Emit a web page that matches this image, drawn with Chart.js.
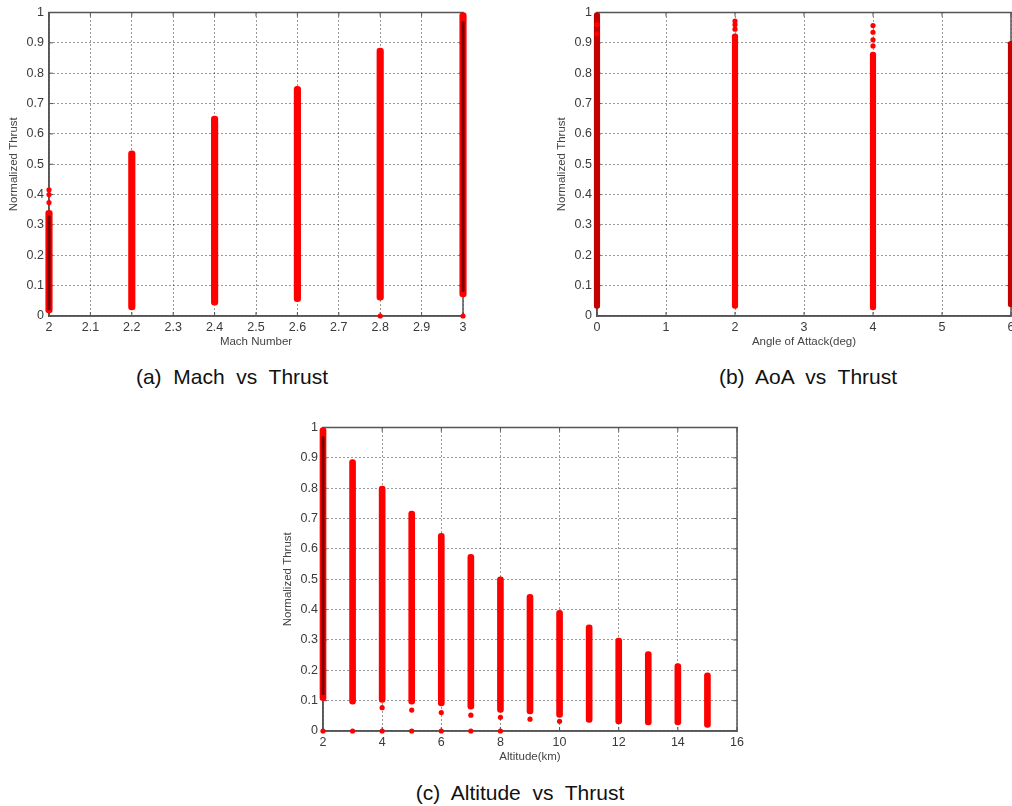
<!DOCTYPE html>
<html>
<head>
<meta charset="utf-8">
<script src="https://cdn.jsdelivr.net/npm/chart.js@4.4.1/dist/chart.umd.min.js"></script>
<style>
  html, body { margin: 0; padding: 0; background: #fff; width: 1012px; height: 806px; overflow: hidden; }
  body { position: relative; }
  canvas { position: absolute; }
  .caption {
    position: absolute; transform: translateX(-50%);
    font-family: "Liberation Sans", Arial, sans-serif; font-size: 21px; line-height: 24px;
    color: #111; white-space: pre;
  }
</style>
</head>
<body>
<canvas id="mach-chart" width="475" height="350" style="left:0;top:0"></canvas>
<canvas id="aoa-chart" width="475" height="350" style="left:548px;top:0"></canvas>
<canvas id="alt-chart" width="475" height="350" style="left:274px;top:415px"></canvas>
<div class="caption" style="left:232px;top:365px">(a)  Mach  vs  Thrust</div>
<div class="caption" style="left:808px;top:365px">(b)  AoA  vs  Thrust</div>
<div class="caption" style="left:520px;top:781px">(c)  Altitude  vs  Thrust</div>

<script>
// --- Data (each column: lowest / highest thrust) ---

// (a) Mach vs Thrust
const machValues   = [2, 2.2, 2.4, 2.6, 2.8, 3];
const machLow      = [0.01, 0.02, 0.036, 0.047, 0.052, 0.063];
const machHigh     = [0.348, 0.544, 0.659, 0.757, 0.883, 1.0];
const machCoreX    = [2, 3];
const machCoreLow  = [0.02, 0.08];
const machCoreHigh = [0.33, 0.97];
const machDotX     = [2, 2, 2, 2.8, 3];
const machDotY     = [0.374, 0.4, 0.416, 0, 0];

// (b) AoA vs Thrust
const aoaValues = [0, 2, 4, 6];
const aoaLow    = [0.025, 0.025, 0.02, 0.03];
const aoaHigh   = [1.0, 0.93, 0.87, 0.905];
const aoaDotX   = [0, 0, 2, 2, 2, 4, 4, 4, 4];
const aoaDotY   = [0.93, 0.96, 0.945, 0.96, 0.972, 0.89, 0.91, 0.935, 0.957];

// (c) Altitude vs Thrust
const altValues   = [2, 3, 4, 5, 6, 7, 8, 9, 10, 11, 12, 13, 14, 15];
const altLow      = [0.1, 0.088, 0.094, 0.088, 0.083, 0.072, 0.061, 0.056, 0.045, 0.028, 0.023, 0.02, 0.02, 0.012];
const altHigh     = [1.0, 0.894, 0.807, 0.725, 0.651, 0.582, 0.508, 0.45, 0.398, 0.35, 0.306, 0.262, 0.222, 0.192];
const altCoreX    = [2];
const altCoreLow  = [0.12];
const altCoreHigh = [0.97];
const altDotX     = [2, 3, 4, 5, 6, 7, 8, 4, 5, 6, 7, 8, 9, 10];
const altDotY     = [0, 0, 0, 0, 0, 0, 0, 0.077, 0.069, 0.061, 0.052, 0.045, 0.039, 0.032];

// --- Helpers ---
const bandData = (xs, lo, hi) => xs.map((x, i) => ({ x, y: [lo[i], hi[i]] }));
const dotData = (xs, ys) => xs.map((x, i) => ({ x, y: ys[i] }));

const tickFont = { family: 'Liberation Sans, Arial, sans-serif', size: 12.5 };
const titleFont = { family: 'Liberation Sans, Arial, sans-serif', size: 11.5 };
const plainNum = v => String(Math.round(v * 100) / 100); // 2 not 2.0

// matlab style box with inward ticks
const frameBox = {
  id: 'frameBox',
  beforeDatasetsDraw(chart) {
    const { ctx, chartArea: a, scales } = chart;
    ctx.save();
    ctx.strokeStyle = '#555';
    ctx.lineWidth = 1.5;
    ctx.strokeRect(a.left, a.top, a.right - a.left, a.bottom - a.top);
    ctx.lineWidth = 1;
    ctx.beginPath();
    scales.x.ticks.forEach(t => {
      const px = scales.x.getPixelForValue(t.value);
      ctx.moveTo(px, a.bottom); ctx.lineTo(px, a.bottom - 4);
      ctx.moveTo(px, a.top); ctx.lineTo(px, a.top + 4);
    });
    scales.y.ticks.forEach(t => {
      const py = scales.y.getPixelForValue(t.value);
      ctx.moveTo(a.left, py); ctx.lineTo(a.left + 4, py);
      ctx.moveTo(a.right, py); ctx.lineTo(a.right - 4, py);
    });
    ctx.stroke();
    ctx.restore();
  }
};

const xScale = (min, max, step, title) => ({
  type: 'linear', min, max, offset: false,
  ticks: { stepSize: step, color: '#3a3a3a', font: tickFont, padding: 4, maxRotation: 0, autoSkip: false, callback: plainNum },
  grid: { color: '#333', drawTicks: false, offset: false },
  border: { color: '#555', width: 1.5, dash: [1, 3] },
  title: { display: true, text: title, color: '#444', font: titleFont, padding: { top: 0, bottom: 1 } },
  afterFit(s) { s.height = 34; }
});

const yScale = () => ({
  type: 'linear', min: 0, max: 1,
  ticks: { stepSize: 0.1, color: '#3a3a3a', font: tickFont, padding: 5, callback: plainNum },
  grid: { color: '#333', drawTicks: false },
  border: { color: '#555', width: 1.5, dash: [1, 3] },
  title: { display: true, text: 'Normalized Thrust', color: '#444', font: titleFont, padding: { top: 7, bottom: 0 } },
  afterFit(s) { s.width = 49; }
});

const bandSet = (data, color, width) => ({
  type: 'bar', data, backgroundColor: color, borderWidth: 0,
  borderRadius: width / 2, borderSkipped: false, grouped: false,
  barThickness: width, maxBarThickness: width, clip: false, order: 2
});

const dotSet = (data) => ({
  type: 'scatter', data, backgroundColor: '#ff0000', borderWidth: 0,
  pointRadius: 2.6, clip: false, order: 1
});

const makeChart = (id, datasets, x) => new Chart(document.getElementById(id), {
  type: 'bar',
  data: { datasets },
  options: {
    responsive: false, animation: false,
    layout: { padding: { top: 11, right: 12, left: 0, bottom: 0 } },
    plugins: { legend: { display: false }, tooltip: { enabled: false } },
    scales: { x, y: yScale() }
  },
  plugins: [frameBox]
});

// --- Charts ---
makeChart('mach-chart', [
  { ...bandSet(bandData(machCoreX, machCoreLow, machCoreHigh), '#7a0000', 2.5), order: 0 },
  dotSet(dotData(machDotX, machDotY)),
  bandSet(bandData(machValues, machLow, machHigh), '#ff0000', 6.5)
], xScale(2, 3, 0.1, 'Mach Number'));

makeChart('aoa-chart', [
  dotSet(dotData(aoaDotX, aoaDotY)),
  bandSet(bandData(aoaValues, aoaLow, aoaHigh), ['#c40000', '#ff0000', '#ff0000', '#c40000'], 5.5)
], xScale(0, 6, 1, 'Angle of Attack(deg)'));

makeChart('alt-chart', [
  { ...bandSet(bandData(altCoreX, altCoreLow, altCoreHigh), '#7a0000', 2.5), order: 0 },
  dotSet(dotData(altDotX, altDotY)),
  bandSet(bandData(altValues, altLow, altHigh), '#ff0000', 6)
], xScale(2, 16, 2, 'Altitude(km)'));
</script>
</body>
</html>
